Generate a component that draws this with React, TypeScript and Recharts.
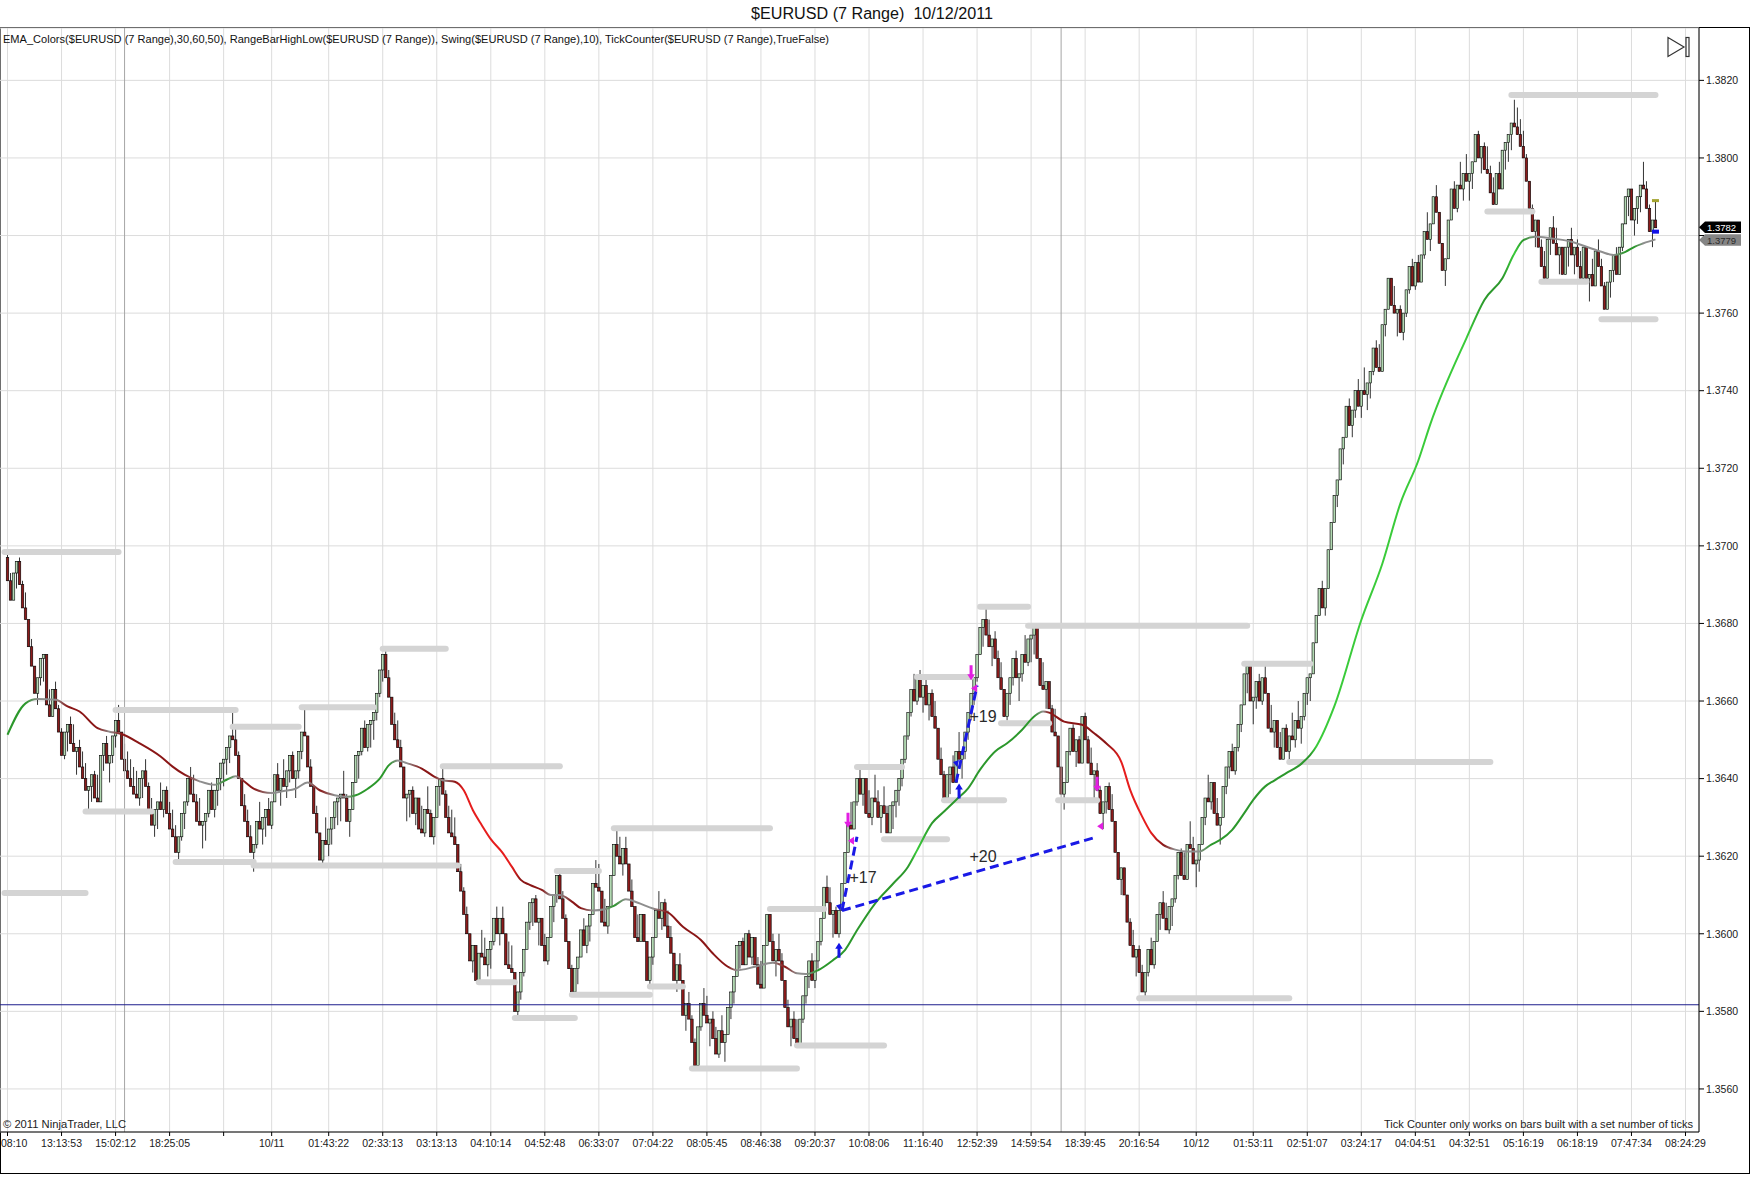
import {
  Bar,
  CartesianGrid,
  ComposedChart,
  Line,
  ReferenceDot,
  ReferenceLine,
  XAxis,
  YAxis,
} from 'recharts'

const FONT = '"Liberation Sans", Arial, sans-serif'

// all prices are kept in pips above 1.3500
const BASE = 1.35
const px = (pips: number) => Math.round((BASE + pips / 10000) * 1e6) / 1e6

const SLOTS = 566
const FIRST_BAR = 2
const FIRST_OPEN = 197
const RANGE = 7

// close of every 7-pip range bar, bars 2..151
const closesA = [
  191, 186, 193, 196, 190, 184, 181, 174, 169, 162,
  166, 171, 172, 159, 156, 163, 158, 152, 146, 152,
  154, 149, 147, 148, 143, 140, 137, 138, 141, 135,
  134, 146, 149, 144, 146, 151, 155, 152, 145, 142,
  140, 138, 136, 135, 140, 142, 138, 132, 128, 132,
  134, 132, 137, 131, 127, 125, 121, 125, 131, 134,
  140, 136, 134, 129, 128, 129, 131, 137, 132, 137,
  140, 144, 145, 148, 151, 150, 146, 140, 133, 129,
  125, 121, 123, 129, 127, 130, 132, 128, 134, 141,
  137, 140, 138, 142, 146, 140, 142, 147, 152, 151,
  143, 138, 131, 126, 119, 124, 123, 127, 130, 134,
  135, 136, 135, 129, 132, 139, 146, 147, 153, 148,
  154, 155, 157, 162, 168, 172, 166, 161, 154, 150,
  148, 143, 135, 136, 137, 131, 135, 127, 126, 132,
  131, 125, 130, 138, 140, 136, 130, 126, 125, 123,
]
// bars 152..301
const closesB = [
  116, 111, 105, 100, 93, 97, 88, 95, 94, 92,
  96, 98, 104, 100, 104, 100, 92, 91, 90, 80,
  85, 90, 96, 103, 108, 109, 103, 104, 97, 93,
  99, 107, 110, 115, 109, 104, 98, 91, 85, 91,
  94, 101, 97, 102, 105, 113, 112, 111, 103, 102,
  107, 115, 123, 120, 118, 122, 118, 111, 107, 99,
  98, 105, 98, 88, 94, 99, 106, 104, 108, 102,
  99, 95, 88, 92, 88, 79, 82, 78, 72, 66,
  76, 82, 79, 77, 78, 73, 69, 75, 72, 74,
  81, 85, 89, 97, 98, 92, 100, 94, 99, 92,
  87, 86, 97, 105, 98, 93, 96, 93, 88, 81,
  76, 78, 73, 71, 78, 84, 89, 93, 88, 93,
  98, 104, 112, 108, 105, 106, 100, 106, 113, 121,
  128, 127, 134, 140, 136, 140, 131, 130, 135, 134,
  130, 133, 131, 126, 133, 134, 137, 140, 145, 151,
]
// bars 302..451
const closesC = [
  157, 163, 160, 166, 161, 164, 159, 162, 156, 153,
  145, 141, 135, 141, 143, 139, 147, 145, 147, 152,
  157, 162, 166, 172, 179, 181, 177, 174, 176, 171,
  166, 163, 156, 162, 166, 171, 166, 167, 172, 170,
  176, 177, 179, 171, 164, 163, 165, 158, 152, 151,
  143, 136, 139, 147, 153, 147, 150, 144, 156, 150,
  144, 141, 142, 137, 131, 134, 138, 132, 129, 121,
  114, 117, 110, 103, 97, 94, 96, 90, 85, 90,
  96, 92, 98, 105, 108, 104, 101, 107, 109, 115,
  121, 115, 114, 123, 122, 118, 119, 123, 130, 135,
  134, 139, 131, 128, 130, 138, 143, 147, 142, 148,
  154, 159, 167, 169, 160, 161, 165, 160, 166, 162,
  153, 152, 155, 148, 145, 153, 147, 151, 150, 155,
  153, 156, 162, 166, 167, 175, 182, 189, 184, 189,
  199, 206, 213, 217, 225, 228, 236, 231, 235, 240,
]
// bars 452..551
const closesD = [
  236, 240, 239, 242, 245, 251, 246, 245, 257, 261,
  269, 262, 260, 261, 255, 260, 266, 272, 267, 273,
  268, 275, 281, 279, 283, 290, 286, 278, 271, 274,
  284, 292, 287, 293, 292, 296, 294, 296, 299, 306,
  300, 303, 297, 296, 291, 288, 296, 292, 302, 304,
  306, 309, 308, 306, 303, 300, 294, 287, 281, 284,
  277, 272, 269, 279, 282, 278, 275, 277, 270, 277,
  279, 275, 277, 272, 269, 277, 269, 270, 267, 276,
  272, 267, 261, 268, 271, 275, 270, 277, 283, 290,
  292, 284, 287, 290, 293, 292, 287, 281, 284, 282,
]
const closes = [...closesA, ...closesB, ...closesC, ...closesD]

// EMA read at sample bars
const emaBars = [
  2, 8, 12, 18, 22, 26, 32, 36, 40, 46, 53, 57, 61, 66, 71, 75, 78, 81, 84, 90,
  94, 98, 102, 106, 111, 115, 118, 122, 126, 129, 132, 135, 140, 144, 147, 151, 154, 157, 160, 163,
  167, 170, 173, 176, 180, 183, 186, 190, 193, 197, 201, 204, 208, 212, 217, 222, 227, 233, 237, 242,
  245, 251, 257, 261, 265, 268, 272, 277, 281, 285, 291, 297, 302, 305, 310, 314, 318, 322, 326, 331,
  335, 340, 344, 347, 349, 354, 360, 364, 368, 373, 376, 380, 383, 387, 391, 395, 399, 403, 406, 410,
  414, 417, 421, 424, 428, 433, 436, 438, 444, 453, 460, 466, 472, 476, 488, 494, 500, 504, 507, 511,
  516, 523, 528, 533, 537, 541, 544, 547, 551,
]
const emaPips = [
  151.3, 159.4, 160.5, 160.3, 158.6, 157.3, 153, 152.1, 151.5, 149.1, 145.7, 143.1, 141, 139.3, 138.4, 139.7, 140.6, 139.2, 137.4, 136.3,
  136.8, 137.4, 139, 137, 135.7, 135.3, 135.7, 137.4, 140, 143.4, 144.7, 144, 142.6, 140.6, 139.6, 139.2, 137, 131.9, 128, 124.4,
  120.8, 117.3, 113.9, 112.6, 111.3, 110, 110, 108.3, 106.6, 106, 106.3, 107.2, 108.9, 108, 106.5, 105.5, 101.8, 98.4, 94.9, 91.5,
  90.6, 91.5, 92.5, 91.5, 89.8, 89.6, 90.6, 93.2, 95.8, 100.9, 107.8, 112.9, 117.3, 121.5, 128.5, 131.5, 134.5, 137.5, 142.3, 147,
  149.1, 152.6, 156, 157.3, 157, 154.7, 153.9, 151.7, 149.1, 144.4, 137.1, 130.2, 126, 122.9, 121.7, 121.2, 121.2, 123, 124.2, 126.8,
  131.1, 134.5, 138, 139.5, 141.4, 143.8, 146.1, 148.3, 158.6, 180.9, 195.4, 210.9, 222, 231.4, 253.5, 263.4, 269, 275.4, 278.8, 279.7,
  279.3, 278.4, 277.1, 275.8, 275, 275.8, 277.1, 278, 279,
]

const tickBars = [
  2, 20, 38, 56, 74, 90, 109, 127, 145, 163, 181, 199, 217, 235, 253, 271,
  289, 307, 325, 343, 361, 379, 398, 417, 435, 453, 471, 489, 507, 525, 543, 561,
]
const tickLabels = [
  '08:10', '13:13:53', '15:02:12', '18:25:05', '', '10/11', '01:43:22', '02:33:13',
  '03:13:13', '04:10:14', '04:52:48', '06:33:07', '07:04:22', '08:05:45', '08:46:38', '09:20:37',
  '10:08:06', '11:16:40', '12:52:39', '14:59:54', '18:39:45', '20:16:54', '10/12', '01:53:11',
  '02:51:07', '03:24:17', '04:04:51', '04:32:51', '05:16:19', '06:18:19', '07:47:34', '08:24:29',
]
const priceTickPips = [60, 80, 100, 120, 140, 160, 180, 200, 220, 240, 260, 280, 300, 320]
// the 1.3780 label sits under the price tags in the original
const hiddenTickPips = [280]

// swing levels: [from bar, to bar, pips]
const swingLevels: [number, number, number][] = [
  [1, 39, 198.4], [1, 28, 110.5], [28, 50, 131.5], [38, 78, 157.7], [58, 84, 118.5],
  [77, 99, 153.4], [84, 152, 117.6], [100, 124, 158.4], [127, 148, 173.5], [147, 186, 143.2],
  [159, 171, 87.5], [171, 191, 78.3], [185, 199, 116.2], [204, 256, 127.2], [190, 216, 84.3],
  [216, 227, 86.4], [230, 265, 65.3], [256, 274, 106.4], [265, 294, 71.2], [285, 300, 143],
  [294, 315, 124.4], [305, 323, 166.2], [314, 334, 134.4], [326, 342, 184.3], [342, 415, 179.4],
  [333, 349, 154.3], [352, 365, 134.4], [379, 429, 83.4], [414, 436, 169.6], [429, 496, 144.3],
  [495, 510, 286.2], [503, 551, 316.2], [513, 528, 268.1], [533, 551, 258.4],
]
const sessionBars = [41, 353]
const markLevel = 81.7

// tick counter lines: [bar a, pips a, bar b, pips b]
const counterLines: [number, number, number, number][] = [
  [280, 106, 285, 125],
  [280, 106, 365, 125],
  [318, 139, 325, 164],
]
const counterTexts: [number, number, string][] = [
  [287, 114.6, '+17'],
  [327, 120, '+20'],
  [327, 156, '+19'],
]
const signals: [number, number, string][] = [
  [279, 95.6, 'up'], [319, 136.7, 'up'],
  [282, 129.4, 'down'], [323, 167.4, 'down'], [365, 138.7, 'down'],
  [283, 124, 'tipM'], [324, 163.3, 'tipM'], [366, 127.7, 'tipM'],
  [279, 107, 'tipB'], [318, 144, 'tipB'],
  [551, 289, 'olive'], [551, 281, 'blue'],
]
const lastClose = 282
const lastEma = 279

type Row = { i: number; range?: [number, number]; open?: number; close?: number; ema?: number }

const rows: Row[] = Array.from({ length: SLOTS }, (_, i) => ({ i }))
closes.forEach((c, k) => {
  const o = k === 0 ? FIRST_OPEN : closes[k - 1]
  const up = c >= o
  const high = up ? c : Math.max(o, c + RANGE)
  const low = up ? Math.min(o, c - RANGE) : c
  const r = rows[FIRST_BAR + k]
  r.open = px(o)
  r.close = px(c)
  r.range = [px(low), px(high)]
})
emaBars.forEach((b, k) => {
  rows[b].ema = px(emaPips[k])
})

const tickLabelAt = new Map(tickBars.map((b, k) => [b, tickLabels[k]]))
const hiddenTicks = new Set(hiddenTickPips.map((p) => px(p).toFixed(4)))

const emaColor = (s: number) =>
  s > 1.4 ? '#3acb3a' : s > 0.28 ? '#2c982c' : s >= -0.28 ? '#8e8e8e' : s >= -1 ? '#8a1616' : '#e61d1d'

const emaSpan = emaBars[emaBars.length - 1] - emaBars[0]
const emaStops = emaBars.map((b, k) => {
  const a = Math.max(0, k - 1)
  const c = Math.min(emaBars.length - 1, k + 1)
  const slope = (emaPips[c] - emaPips[a]) / (emaBars[c] - emaBars[a])
  return { offset: (b - emaBars[0]) / emaSpan, color: emaColor(slope) }
})

function Candle(props: any) {
  const { x, y, width, height, payload } = props
  if (!payload || payload.close == null || !payload.range) return <g />
  const [low, high] = payload.range
  const top = Math.min(y, y + height)
  const h = Math.abs(height)
  const py = (p: number) => top + ((high - p) / (high - low)) * h
  const cx = x + width / 2
  const up = payload.close >= payload.open
  const bTop = py(Math.max(payload.open, payload.close))
  const bBot = py(Math.min(payload.open, payload.close))
  return (
    <g>
      <line x1={cx} x2={cx} y1={top} y2={top + h} stroke="#000" strokeWidth={0.8} />
      <rect
        x={cx - 1.25}
        y={bTop}
        width={2.5}
        height={Math.max(bBot - bTop, 0.8)}
        fill={up ? '#b2d9b2' : '#8c1b1b'}
        stroke="#000"
        strokeWidth={0.6}
      />
    </g>
  )
}

// first label is clipped by the left frame in the original, so it is left-anchored
function TimeTick(props: any) {
  const { x, y, payload } = props
  const label = tickLabelAt.get(payload?.value) ?? ''
  const first = payload?.value === tickBars[0]
  return (
    <text
      x={first ? 1 : x}
      y={y}
      dy="0.71em"
      textAnchor={first ? 'start' : 'middle'}
      fontSize={10.5}
      fontFamily={FONT}
      fill="#1a1a1a"
    >
      {label}
    </text>
  )
}

function Signal({ cx, cy, kind }: any) {
  if (cx == null || cy == null) return <g />
  if (kind === 'up')
    return (
      <path
        d={`M${cx} ${cy - 8} L${cx + 3.8} ${cy - 2} L${cx + 1.5} ${cy - 2} L${cx + 1.5} ${cy + 7} L${cx - 1.5} ${cy + 7} L${cx - 1.5} ${cy - 2} L${cx - 3.8} ${cy - 2} Z`}
        fill="#1515e6"
      />
    )
  if (kind === 'down')
    return (
      <path
        d={`M${cx} ${cy + 8} L${cx + 3.8} ${cy + 2} L${cx + 1.5} ${cy + 2} L${cx + 1.5} ${cy - 7} L${cx - 1.5} ${cy - 7} L${cx - 1.5} ${cy + 2} L${cx - 3.8} ${cy + 2} Z`}
        fill="#e21fe2"
      />
    )
  if (kind === 'tipM')
    return <path d={`M${cx - 3} ${cy} L${cx + 3} ${cy - 4} L${cx + 3} ${cy + 4} Z`} fill="#e21fe2" />
  if (kind === 'tipB')
    return <path d={`M${cx + 3} ${cy - 3} L${cx - 3} ${cy - 1} L${cx + 1} ${cy + 4} Z`} fill="#1515e6" />
  if (kind === 'olive') return <rect x={cx - 3.5} y={cy - 1.5} width={7} height={3} fill="#a3a32e" />
  return <rect x={cx - 3.5} y={cy - 2} width={7} height={4} fill="#1010e8" />
}

function CounterText({ cx, cy, text }: any) {
  if (cx == null || cy == null) return <g />
  return (
    <text x={cx} y={cy} textAnchor="middle" dominantBaseline="central" fontSize={16} fontFamily={FONT} fill="#2a2a2a">
      {text}
    </text>
  )
}

function PriceTag({ viewBox, text, bg, fg, shift }: any) {
  if (!viewBox) return <g />
  const x0 = viewBox.x + viewBox.width
  const y0 = viewBox.y + (shift ?? 0)
  return (
    <g>
      <path
        d={`M${x0} ${y0} L${x0 + 6} ${y0 - 5.8} L${x0 + 42} ${y0 - 5.8} L${x0 + 42} ${y0 + 5.8} L${x0 + 6} ${y0 + 5.8} Z`}
        fill={bg}
      />
      <text x={x0 + 8} y={y0 + 0.5} dominantBaseline="central" fontSize={9.5} fontFamily={FONT} fill={fg}>
        {text}
      </text>
    </g>
  )
}

export default function App() {
  return (
    <div
      style={{
        position: 'absolute',
        left: 0,
        top: 0,
        width: 1752,
        height: 1177,
        background: '#fff',
        overflow: 'hidden',
        fontFamily: FONT,
      }}
    >
      <svg width={1752} height={1177} style={{ position: 'absolute', left: 0, top: 0 }}>
        <defs>
          <linearGradient id="emaGrad" x1="0" y1="0" x2="1" y2="0">
            {emaStops.map((s, k) => (
              <stop key={k} offset={s.offset} stopColor={s.color} />
            ))}
          </linearGradient>
        </defs>
        <rect x={0.5} y={27.5} width={1749} height={1146} fill="none" stroke="#000" />
      </svg>
      <div style={{ position: 'absolute', left: 0, top: 0 }}>
        <ComposedChart
          width={1750}
          height={1177}
          data={rows}
          margin={{ top: 28, right: 0, bottom: 0, left: 0 }}
          barCategoryGap={0}
          barGap={0}
        >
          <CartesianGrid stroke="#dcdcdc" />
          <XAxis
            dataKey="i"
            type="category"
            height={45}
            ticks={tickBars}
            interval={0}
            tick={(p: any) => <TimeTick {...p} />}
            tickSize={4}
            tickMargin={4}
            axisLine={{ stroke: '#000' }}
            tickLine={{ stroke: '#000' }}
          />
          <YAxis
            orientation="right"
            width={51}
            domain={[1.35489, 1.38335]}
            allowDataOverflow
            ticks={priceTickPips.map(px)}
            tickFormatter={(v) => {
              const s = Number(v).toFixed(4)
              return hiddenTicks.has(s) ? '' : s
            }}
            tick={{ fill: '#1a1a1a', fontSize: 10.5, fontFamily: FONT }}
            tickSize={5}
            tickMargin={2}
            axisLine={{ stroke: '#000' }}
            tickLine={{ stroke: '#000' }}
          />
          {sessionBars.map((b) => (
            <ReferenceLine key={`s${b}`} x={b} stroke="#a6a6a6" />
          ))}
          {swingLevels.map(([a, b, p], k) => (
            <ReferenceLine
              key={`w${k}`}
              segment={[
                { x: a, y: px(p) },
                { x: b, y: px(p) },
              ]}
              stroke="#d4d4d4"
              strokeWidth={6}
              strokeLinecap="round"
            />
          ))}
          <ReferenceLine y={px(markLevel)} stroke="#1c1c8c" />
          <Bar dataKey="range" isAnimationActive={false} shape={(p: any) => <Candle {...p} />} />
          <Line
            dataKey="ema"
            type="monotone"
            connectNulls
            dot={false}
            activeDot={false}
            stroke="url(#emaGrad)"
            strokeWidth={2}
            isAnimationActive={false}
          />
          {counterLines.map(([a, pa, b, pb], k) => (
            <ReferenceLine
              key={`c${k}`}
              segment={[
                { x: a, y: px(pa) },
                { x: b, y: px(pb) },
              ]}
              stroke="#1a1ae6"
              strokeWidth={3}
              strokeDasharray="9 5"
            />
          ))}
          {signals.map(([b, p, kind], k) => (
            <ReferenceDot
              key={`g${k}`}
              x={b}
              y={px(p)}
              r={0}
              shape={(sp: any) => <Signal cx={sp.cx} cy={sp.cy} kind={kind} />}
            />
          ))}
          {counterTexts.map(([b, p, t], k) => (
            <ReferenceDot
              key={`t${k}`}
              x={b}
              y={px(p)}
              r={0}
              shape={(sp: any) => <CounterText cx={sp.cx} cy={sp.cy} text={t} />}
            />
          ))}
          <ReferenceLine
            y={px(lastEma)}
            stroke="none"
            label={<PriceTag text={px(lastEma).toFixed(4)} bg="#858585" fg="#2b2b2b" shift={0.6} />}
          />
          <ReferenceLine
            y={px(lastClose)}
            stroke="none"
            label={<PriceTag text={px(lastClose).toFixed(4)} bg="#000" fg="#fff" shift={-0.6} />}
          />
        </ComposedChart>
      </div>
      <svg
        width={1752}
        height={1177}
        style={{ position: 'absolute', left: 0, top: 0, pointerEvents: 'none' }}
      >
        <text
          x={872}
          y={19}
          textAnchor="middle"
          fontSize={16}
          fontFamily={FONT}
          fill="#111"
          textLength={242}
          lengthAdjust="spacingAndGlyphs"
          style={{ whiteSpace: 'pre' }}
        >
          {'$EURUSD (7 Range)  10/12/2011'}
        </text>
        <text x={3} y={42.5} fontSize={11} fontFamily={FONT} fill="#111" textLength={826} lengthAdjust="spacingAndGlyphs">
          EMA_Colors($EURUSD (7 Range),30,60,50), RangeBarHighLow($EURUSD (7 Range)), Swing($EURUSD (7 Range),10), TickCounter($EURUSD (7 Range),TrueFalse)
        </text>
        <text x={3} y={1128} fontSize={11} fontFamily={FONT} fill="#222" textLength={123} lengthAdjust="spacingAndGlyphs">
          © 2011 NinjaTrader, LLC
        </text>
        <text
          x={1693}
          y={1128}
          textAnchor="end"
          fontSize={11}
          fontFamily={FONT}
          fill="#222"
          textLength={309}
          lengthAdjust="spacingAndGlyphs"
        >
          Tick Counter only works on bars built with a set number of ticks
        </text>
        <path d="M1668 37.5 L1684 47 L1668 56.5 Z" fill="none" stroke="#333" strokeWidth={1.2} />
        <rect x={1686} y={37.5} width={3} height={19} fill="none" stroke="#333" strokeWidth={1.2} />
      </svg>
    </div>
  )
}
